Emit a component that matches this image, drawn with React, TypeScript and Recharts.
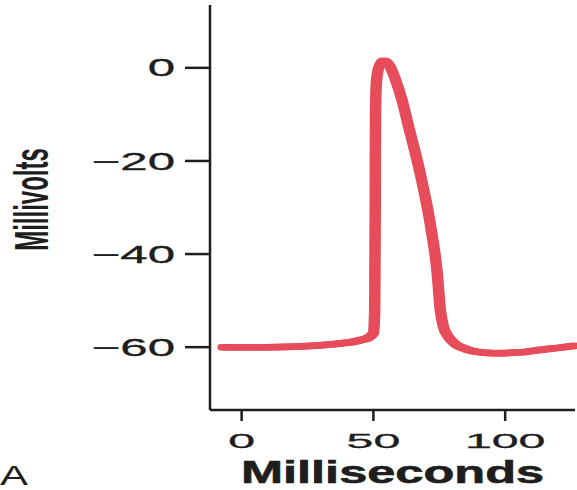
import React from 'react';
import { LineChart, Line, XAxis, YAxis } from 'recharts';

// Time in ms and membrane potential in mV
const TIME_MS = [
	-7, 0, 10, 20, 30, 37.5, 42, 45, 48, 50, 50.5, 50.7, 50.8, 51.1, 51.9, 53.8,
	56.2, 58.3, 61, 63, 67.8, 71.6, 74.2, 75.4, 76.5, 78.5, 81, 84, 88, 96,
	106, 113, 121, 126.5,
];
const MILLIVOLTS = [
	-60, -60, -60, -59.9, -59.6, -59.2, -58.9, -58.5, -58, -57, -52, -30, -10,
	-3.5, -0.2, 1.5, 0.4, -2.4, -7.2, -11.8, -22.8, -33.6, -44, -52, -55.5,
	-57.8, -59.3, -60.2, -60.9, -61.3, -61.1, -60.6, -60.1, -59.7,
];
const X_TICKS = [0, 50, 100];
const Y_TICKS = [0, -20, -40, -60];

const X_TITLE = 'Milliseconds';
const Y_TITLE = 'Millivolts';
const PANEL = 'A';

const COLORS = {
	trace: '#e64c5a',
	axis: '#1e1e1e',
	text: '#1e1e1e',
};
const FONT = '"Liberation Sans", Arial, Helvetica, sans-serif';

const data = TIME_MS.map((t, i) => ({ t, mv: MILLIVOLTS[i] }));

const fmt = (v: number) => (v < 0 ? `\u2212${Math.abs(v)}` : `${v}`);

// the source figure is stretched sideways, so text gets a scaleX
function YTick({ x, y, payload }: any) {
	return (
		<text
			transform={`translate(${x},${y}) scale(2.05,1)`}
			textAnchor="end"
			dy="0.36em"
			fontSize={24}
			fontFamily={FONT}
			fill={COLORS.text}
			stroke={COLORS.text}
			strokeWidth={0.3}
		>
			{fmt(payload.value)}
		</text>
	);
}

function XTick({ x, y, payload }: any) {
	return (
		<text
			transform={`translate(${x},${y + 25}) scale(2.3,1)`}
			textAnchor="middle"
			fontSize={21}
			fontFamily={FONT}
			fill={COLORS.text}
			stroke={COLORS.text}
			strokeWidth={0.3}
		>
			{fmt(payload.value)}
		</text>
	);
}

function XTitle({ viewBox }: any) {
	const cx = viewBox.x + viewBox.width / 2;
	const base = viewBox.y + 73;
	return (
		<g>
			<text
				transform={`translate(${cx},${base}) scale(1.63,1)`}
				textAnchor="middle"
				fontSize={31}
				fontWeight="bold"
				fontFamily={FONT}
				fill={COLORS.text}
				stroke={COLORS.text}
				strokeWidth={0.6}
			>
				{X_TITLE}
			</text>
			<text
				transform={`translate(0,${base + 2}) scale(1.5,1)`}
				textAnchor="start"
				fontSize={28}
				fontFamily={FONT}
				fill={COLORS.text}
			>
				{PANEL}
			</text>
		</g>
	);
}

function YTitle({ viewBox }: any) {
	const cy = viewBox.y + viewBox.height / 2 - 8;
	return (
		<text
			transform={`translate(32,${cy}) rotate(-90) scale(1,2)`}
			textAnchor="middle"
			dominantBaseline="central"
			fontSize={24}
			fontWeight="bold"
			fontFamily={FONT}
			fill={COLORS.text}
		>
			{Y_TITLE}
		</text>
	);
}

export default function App() {
	return (
		<div
			style={{
				position: 'absolute',
				left: 0,
				top: 0,
				width: 577,
				height: 490,
				background: '#fff',
			}}
		>
			<style>{`
				.pen-l path { transform: translateX(-2.5px); }
				.pen-r path { transform: translateX(2.5px); }
			`}</style>
			<LineChart
				width={577}
				height={490}
				data={data}
				margin={{ top: 5, right: 2, left: 0, bottom: 0 }}
			>
				<XAxis
					type="number"
					dataKey="t"
					domain={[-12, 126.5]}
					ticks={X_TICKS}
					allowDataOverflow
					height={80}
					tickSize={11}
					stroke={COLORS.axis}
					strokeWidth={2.5}
					tick={<XTick />}
					label={<XTitle />}
				/>
				<YAxis
					type="number"
					domain={[-73.5, 13.5]}
					ticks={Y_TICKS}
					allowDataOverflow
					width={210}
					tickSize={25}
					tickMargin={10}
					stroke={COLORS.axis}
					strokeWidth={2.5}
					tick={<YTick />}
					label={<YTitle />}
				/>
				{/* three offset copies give the pen its wider sideways stroke */}
				<Line
					className="pen-l"
					type="monotone"
					dataKey="mv"
					stroke={COLORS.trace}
					strokeWidth={6.5}
					strokeLinecap="round"
					dot={false}
					activeDot={false}
					isAnimationActive={false}
				/>
				<Line
					className="pen-r"
					type="monotone"
					dataKey="mv"
					stroke={COLORS.trace}
					strokeWidth={6.5}
					strokeLinecap="round"
					dot={false}
					activeDot={false}
					isAnimationActive={false}
				/>
				<Line
					type="monotone"
					dataKey="mv"
					stroke={COLORS.trace}
					strokeWidth={6.5}
					strokeLinecap="round"
					dot={false}
					activeDot={false}
					isAnimationActive={false}
				/>
			</LineChart>
		</div>
	);
}
